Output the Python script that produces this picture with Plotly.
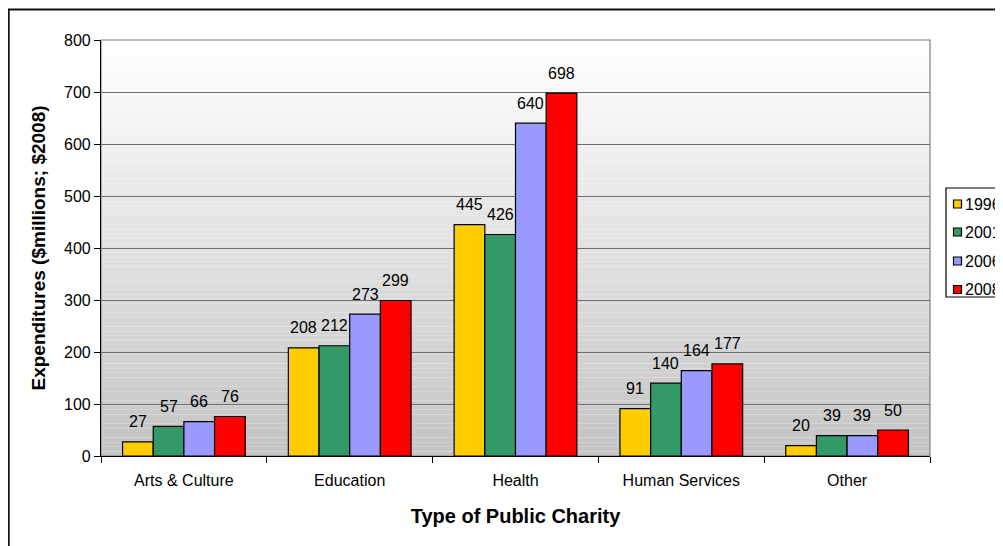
import plotly.graph_objects as go

categories = ["Arts & Culture", "Education", "Health", "Human Services", "Other"]
years = ["1996", "2001", "2006", "2008"]
v1996 = [27, 208, 445, 91, 20]
v2001 = [57, 212, 426, 140, 39]
v2006 = [66, 273, 640, 164, 39]
v2008 = [76, 299, 698, 177, 50]
colors = ["#FFCC00", "#339966", "#9999FF", "#FF0000"]
series = [v1996, v2001, v2006, v2008]

# page body has an 8px default margin: work in figure coords = screen - 8
OFF = 8
W, H = 1003 - OFF, 546 - OFF
L, T = 101 - OFF, 40 - OFF
R = W - (930 - OFF)
B = H - (456 - OFF)
pw, ph = W - L - R, H - T - B
BARGAP = 0.26
FONT = "Liberation Sans, Arial"


def px(sx):  # screen x -> paper x
    return (sx - OFF - L) / pw


def py(sy):  # screen y -> paper y
    return (H - B - (sy - OFF)) / ph


fig = go.Figure()
for name, vals, c in zip(years, series, colors):
    fig.add_trace(go.Bar(
        x=categories, y=vals, name=name,
        marker=dict(color=c, line=dict(color="black", width=1.2)),
        showlegend=False,
    ))

# value labels above bars
bw = pw / len(categories) * (1 - BARGAP) / len(years)
annotations = []
for j, vals in enumerate(series):
    for cat, v in zip(categories, vals):
        annotations.append(dict(
            x=cat, y=v, xref="x", yref="y", text=str(v), showarrow=False,
            xshift=(j - (len(years) - 1) / 2) * bw, yshift=20, yanchor="middle",
            font=dict(family=FONT, size=16, color="black")))

shapes = []
# gradient background
n = 90
for i in range(n):
    t = i / (n - 1)
    g = round(255 - (255 - 196) * (1 - t))
    shapes.append(dict(type="rect", xref="x domain", yref="y domain",
                       x0=0, x1=1, y0=i / n, y1=(i + 1) / n,
                       fillcolor=f"rgb({g},{g},{g})", line=dict(width=0), layer="below"))
# plot area border
shapes.append(dict(type="rect", xref="x domain", yref="y domain", x0=0, x1=1, y0=0, y1=1,
                   line=dict(color="#808080", width=1.2), layer="below"))
# outer chart border
shapes.append(dict(type="rect", xref="paper", yref="paper",
                   x0=px(8.8), x1=px(1030), y0=py(600), y1=py(9.5),
                   line=dict(color="#111111", width=1.8)))

# legend (box, swatches, labels)
shapes.append(dict(type="rect", xref="paper", yref="paper",
                   x0=px(946), x1=px(1030), y0=py(297), y1=py(188),
                   fillcolor="white", line=dict(color="black", width=1.2)))
leg_y = [204, 232, 261, 289.5]
for yr, c, ly in zip(years, colors, leg_y):
    shapes.append(dict(type="rect", xref="paper", yref="paper",
                       x0=px(953.5), x1=px(961.5), y0=py(ly + 4), y1=py(ly - 4),
                       fillcolor=c, line=dict(color="black", width=1.2)))
    annotations.append(dict(x=px(963), y=py(ly), xref="paper", yref="paper",
                            text=yr, showarrow=False, xanchor="left", yanchor="middle",
                            font=dict(family=FONT, size=16, color="black")))

fig.update_layout(
    width=W, height=H,
    margin=dict(l=L, r=R, t=T, b=B, autoexpand=False),
    paper_bgcolor="white", plot_bgcolor="rgba(0,0,0,0)",
    barmode="group", bargap=BARGAP, bargroupgap=0,
    font=dict(family=FONT, size=16, color="black"),
    shapes=shapes, annotations=annotations,
    showlegend=False,
    xaxis=dict(
        title=dict(text="<b>Type of Public Charity</b>", font=dict(size=20), standoff=20),
        showline=True, linecolor="black", linewidth=1.2,
        ticks="outside", tickson="boundaries", ticklen=6, tickcolor="black",
        ticklabelstandoff=10,
        tickfont=dict(size=16), automargin=False,
    ),
    yaxis=dict(
        title=dict(text="<b>Expenditures ($millions; $2008)</b>", font=dict(size=19), standoff=13),
        range=[0, 800], dtick=100,
        showline=True, linecolor="black", linewidth=1.2,
        ticks="outside", ticklen=6, tickcolor="black",
        showgrid=True, gridcolor="#6e6e6e", gridwidth=1.2,
        zeroline=False, tickfont=dict(size=16), automargin=False,
    ),
)

fig.write_html("out.html")
